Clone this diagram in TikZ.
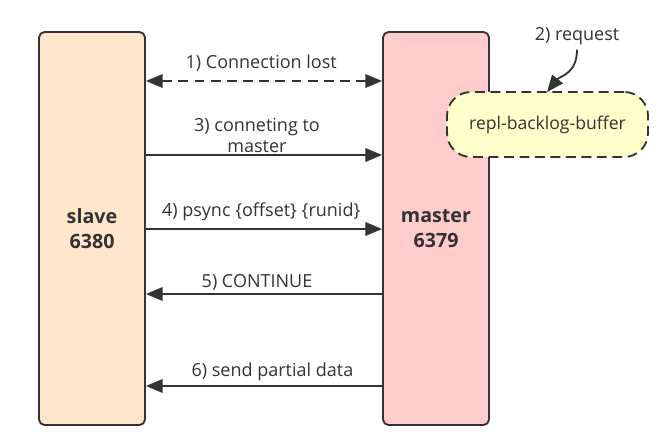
\documentclass[tikz,border=0pt]{standalone}
\usepackage{fontspec}
\setmainfont{Open Sans}
\usetikzlibrary{arrows.meta,positioning}
\definecolor{ink}{HTML}{333333}
\definecolor{slavefill}{HTML}{FFE6CC}
\definecolor{masterfill}{HTML}{FFCCCC}
\definecolor{buffill}{HTML}{FFFFCC}

\begin{document}
\begin{tikzpicture}[
  x=0.025cm,y=-0.025cm,
  server/.style={rectangle,rounded corners=4pt,draw=ink,line width=1.3pt,minimum width=2.65cm,minimum height=9.825cm,font=\fontsize{14}{18}\selectfont\bfseries,text=ink,align=center},
  bufbox/.style={rectangle,rounded corners=0.6cm,draw=ink,line width=1.3pt,dash pattern=on 7pt off 4pt,fill=buffill,minimum width=5.025cm,minimum height=1.625cm,font=\fontsize{12.5}{15}\selectfont,text=ink},
  msg/.style={draw=ink,line width=1.3pt,-{Triangle[length=0.42cm,width=0.34cm]}},
  msglab/.style={font=\fontsize{12.8}{15}\selectfont,text=ink,align=center,midway,above,inner sep=3pt}
]
\useasboundingbox (0,0) rectangle (669,433);
% the two servers
\node[server,fill=slavefill] (slave) at (92,228.5) {slave\\6380};
\node[server,fill=masterfill] (master) at (436,228.5) {master\\6379};
% backlog buffer on the master
\node[bufbox] (buf) at (547.5,124.5) {repl-backlog-buffer};
\node[font=\fontsize{12.8}{15}\selectfont,text=ink] (req) at (577,36) {2) request};
\coordinate (bufin) at (547,92);
\draw[msg] (req.south) .. controls (577,74) and (560,76) .. (bufin);
% messages between slave and master
\draw[msg,{Triangle[length=0.42cm,width=0.34cm]}-{Triangle[length=0.42cm,width=0.34cm]},dash pattern=on 7pt off 4.5pt]
  (slave.east |- 0,81) -- (master.west |- 0,81) node[msglab,inner sep=6pt,xshift=-2] {1) Connection lost};
\draw[msg] (slave.east |- 0,155) -- (master.west |- 0,155) node[msglab,inner sep=1pt,xshift=-5] {3) conneting to\\master};
\draw[msg] (slave.east |- 0,229) -- (master.west |- 0,229) node[msglab,inner sep=5pt,xshift=-2] {4) psync \{offset\} \{runid\}};
\draw[msg] (master.west |- 0,294) -- (slave.east |- 0,294) node[msglab,inner sep=2pt,xshift=-5] {5) CONTINUE};
\draw[msg] (master.west |- 0,386) -- (slave.east |- 0,386) node[msglab,xshift=6] {6) send partial data};
\end{tikzpicture}
\end{document}
